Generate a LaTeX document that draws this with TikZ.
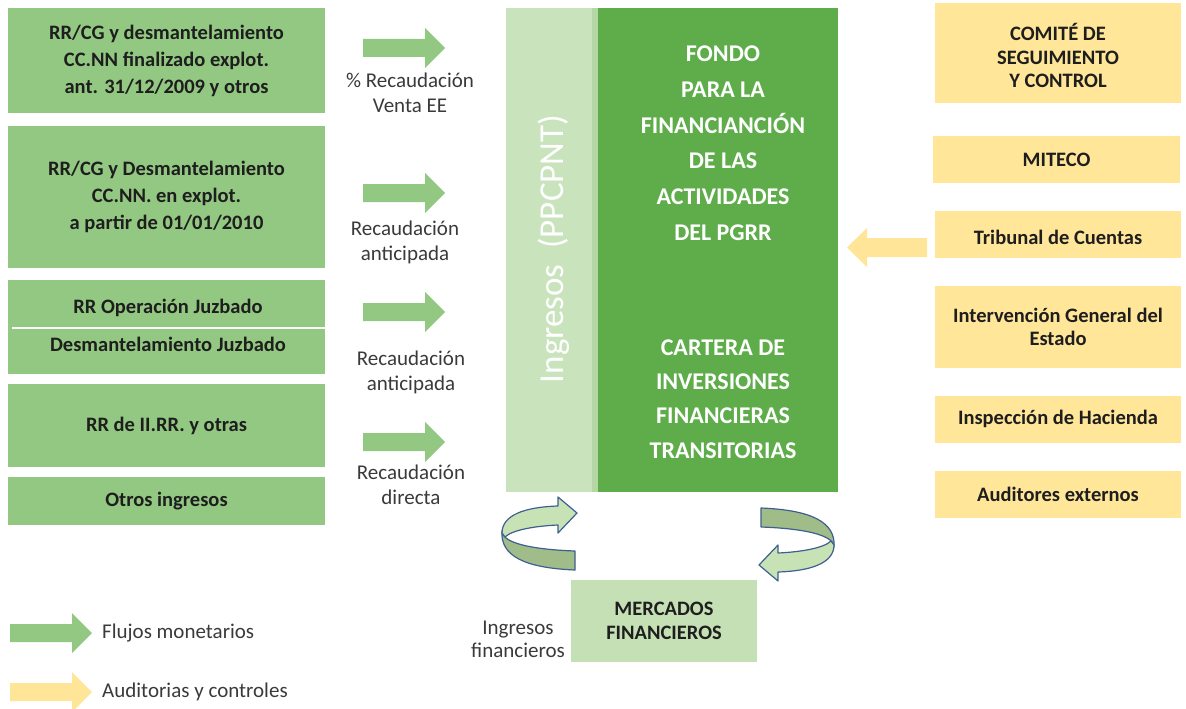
\documentclass[tikz,border=0pt]{standalone}
\usepackage{fontspec}
\setmainfont{Carlito}
\definecolor{gboxc}{HTML}{93C882}
\definecolor{ltcol}{HTML}{C9E4BD}
\definecolor{stripc}{HTML}{B4D7A5}
\definecolor{dkgreen}{HTML}{5EAD4A}
\definecolor{yboxc}{HTML}{FFE699}
\definecolor{yarr}{HTML}{FFE597}
\definecolor{mercc}{HTML}{C5E0B4}
\definecolor{txtc}{HTML}{1E1E1E}
\definecolor{lblc}{HTML}{3A3A3A}
\definecolor{outl}{HTML}{3F5F8F}
\definecolor{cfront}{HTML}{C7E3B5}
\definecolor{cback}{HTML}{A0BC88}
\newcommand\blkR[4]{\fill[#4] (#1,#3-9) -- (#2-20,#3-9) -- (#2-20,#3-20) -- (#2,#3) -- (#2-20,#3+20) -- (#2-20,#3+9) -- (#1,#3+9) -- cycle;}
\newcommand\curvarrowshape{%
 \filldraw[carrback] (575,551) .. controls (545,550) and (512,546) .. (504,536) -- (502,531) .. controls (500,556) and (525,568) .. (575,570) -- cycle;
 \filldraw[carrfront] (502,533) .. controls (502,515) and (525,507) .. (558,506) -- (558,497) -- (577,513) -- (558,533) -- (558,525) .. controls (535,526) and (512,530) .. (505,537) -- cycle;}
\begin{document}
\begin{tikzpicture}[x=1pt,y=-1pt,
  gbox/.style={fill=gboxc, inner sep=0, text=txtc, align=center, font=\bfseries\fontsize{20.5}{27}\selectfont},
  ybox/.style={fill=yboxc, inner sep=0, text=txtc, align=center, font=\bfseries\fontsize{20.5}{23.5}\selectfont},
  ytext/.style={inner sep=0, text=txtc, align=center, font=\bfseries\fontsize{20.5}{23.5}\selectfont},
  gtext/.style={inner sep=0, text=txtc, font=\bfseries\fontsize{20.5}{27}\selectfont},
  lbl/.style={inner sep=0, text=lblc, align=center, font=\fontsize{21}{25}\selectfont},
  wtitle/.style={inner sep=0, text=white, align=center, font=\bfseries\fontsize{24}{35.7}\selectfont},
  carrback/.style={fill=cback, draw=outl, line width=1.2pt, line join=round},
  carrfront/.style={fill=cfront, draw=outl, line width=1.2pt, line join=round}]
\useasboundingbox (0,0) rectangle (1186,709);

% left boxes
\node[gbox, minimum width=317, minimum height=105] (b1) at (166.5,60.5) {RR/CG y desmantelamiento\\CC.NN finalizado explot.\\ant. 31/12/2009 y otros};
\node[gbox, minimum width=317, minimum height=142] (b2) at (166.5,197) {RR/CG y Desmantelamiento\\CC.NN. en explot.\\a partir de 01/01/2010};
\node[gbox, minimum width=317, minimum height=94] (b3) at (166.5,327) {};
\draw[white, line width=2.5pt] (12,328) -- (325,328);
\node[gtext, anchor=base] (b3a) at (168,313.3) {RR Operación Juzbado};
\node[gtext, anchor=base] (b3b) at (168,351.7) {Desmantelamiento Juzbado};
\node[gbox, minimum width=317, minimum height=83] (b4) at (166.5,425.5) {RR de II.RR. y otras};
\node[gbox, minimum width=317, minimum height=48] (b5) at (166.5,501) {Otros ingresos};

% green arrows and labels
\blkR{363}{445}{48}{gboxc}
\blkR{363}{445}{193}{gboxc}
\blkR{363}{445}{312}{gboxc}
\blkR{363}{445}{442}{gboxc}
\node[lbl] (l1) at (410,93) {\% Recaudación\\Venta EE};
\node[lbl] (l2) at (405,242.5) {Recaudación\\anticipada};
\node[lbl] (l3) at (411,372.5) {Recaudación\\anticipada};
\node[lbl] (l4) at (411,485) {Recaudación\\directa};

% central fund
\fill[ltcol] (506,8) rectangle (598,492);
\fill[stripc] (592,8) rectangle (598,492);
\node[fill=dkgreen, minimum width=240, minimum height=484, inner sep=0] (fund) at (718,250) {};
\node[inner sep=0, text=white, rotate=90, anchor=base, font=\fontsize{35}{40}\selectfont] (ing) at (563.5,249) {Ingresos\hspace{0.45em}(PPCPNT)};
\node[wtitle] (t1) at (723,143.3) {FONDO\\PARA LA\\FINANCIANCIÓN\\DE LAS\\ACTIVIDADES\\DEL PGRR};
\node[wtitle, font=\bfseries\fontsize{24}{34.3}\selectfont] (t2) at (723,398.9) {CARTERA DE\\INVERSIONES\\FINANCIERAS\\TRANSITORIAS};

% right boxes
\node[ybox, minimum width=246, minimum height=99] (r1) at (1058,53) {};
\node[ytext] (r1t) at (1058,55.5) {COMITÉ DE\\SEGUIMIENTO\\Y CONTROL};
\node[ybox, minimum width=247, minimum height=47] (r2) at (1056.5,159.5) {MITECO};
\node[ybox, minimum width=246, minimum height=47] (r3) at (1058,234.5) {};
\node[ytext] (r3t) at (1058,237) {Tribunal de Cuentas};
\node[ybox, minimum width=246, minimum height=82] (r4) at (1058,327) {Intervención General del\\Estado};
\node[ybox, minimum width=246, minimum height=47] (r5) at (1058,419) {Inspección de Hacienda};
\node[ybox, minimum width=246, minimum height=47] (r6) at (1058,494) {Auditores externos};

% yellow arrow
\fill[yarr] (927,238) -- (867,238) -- (867,228) -- (847,247.5) -- (867,267) -- (867,257) -- (927,257) -- cycle;

% markets
\node[fill=mercc, minimum width=186, minimum height=82, inner sep=0, text=txtc, align=center, font=\bfseries\fontsize{20.5}{23.5}\selectfont] (merc) at (664,621) {MERCADOS\\FINANCIEROS};
\node[lbl, font=\fontsize{21}{23}\selectfont] (ingf) at (518,639.5) {Ingresos\\financieros};
\curvarrowshape
\begin{scope}[shift={(1336,1078)}, xscale=-1, yscale=-1]
\curvarrowshape
\end{scope}

% legend
\blkR{10}{92}{633}{gboxc}
\blkR{10}{92}{692}{yarr}
\node[lbl, anchor=base west] (lg1) at (102,638) {Flujos monetarios};
\node[lbl, anchor=base west] (lg2) at (102,697) {Auditorias y controles};
\end{tikzpicture}
\end{document}
